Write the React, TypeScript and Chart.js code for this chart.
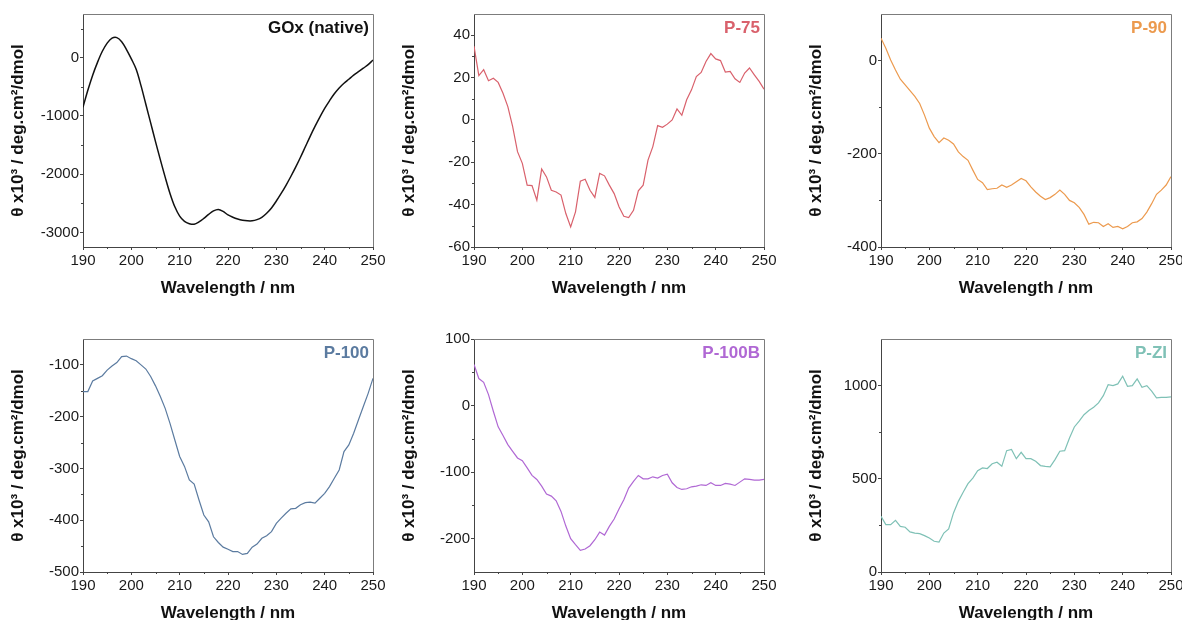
import React, { useEffect, useRef } from "react";
import { Chart, registerables } from "chart.js";

Chart.register(...registerables);

// Wavelength grid (nm), shared by every spectrum
const wavelengths = [
  190, 191, 192, 193, 194, 195, 196, 197, 198, 199,
  200, 201, 202, 203, 204, 205, 206, 207, 208, 209,
  210, 211, 212, 213, 214, 215, 216, 217, 218, 219,
  220, 221, 222, 223, 224, 225, 226, 227, 228, 229,
  230, 231, 232, 233, 234, 235, 236, 237, 238, 239,
  240, 241, 242, 243, 244, 245, 246, 247, 248, 249,
  250,
];

// Mean residue ellipticity, θ x10³ deg·cm²/dmol
const goxNative = [
  -850, -560, -300, -80, 110, 250, 335, 345, 275, 140,
  -20, -200, -480, -800, -1120, -1440, -1750, -2050, -2330, -2560,
  -2720, -2810, -2850, -2860, -2820, -2760, -2690, -2630, -2605, -2640,
  -2700, -2740, -2770, -2790, -2800, -2800, -2780, -2740, -2670, -2580,
  -2460, -2330, -2190, -2040, -1880, -1710, -1530, -1350, -1180, -1020,
  -870, -740, -620, -520, -440, -370, -300, -240, -180, -120,
  -40,
];

const p75 = [
  34.8, 20.9, 23.7, 18.5, 19.7, 17.7, 12.6, 6.3, -3.2, -15,
  -20.5, -30.8, -31, -37.9, -23.2, -26.9, -33.2, -34, -35.5, -44.2,
  -50.5, -43.4, -28.9, -28, -33.2, -36.6, -25.3, -26.4, -30.8, -34.8,
  -41, -45.5, -46.1, -42.7, -33.5, -30.8, -19, -12.6, -2.7, -3.5,
  -2, 0, 5.2, 2.2, 9.5, 14.2, 20.5, 22.4, 27.6, 31.3,
  28.8, 28, 22.6, 22.9, 19.4, 17.7, 22.1, 24.5, 21.3, 18.2,
  14.5,
];

const p90 = [
  48, 26.5, 1.4, -20, -40, -52, -64.5, -77, -92, -117,
  -145, -163, -176, -166, -171, -179, -196, -206, -214, -235,
  -255, -262, -277, -275, -274, -267, -272, -267, -260, -253,
  -258, -271, -282, -291, -298, -294, -287, -278, -287, -300,
  -305, -315, -330, -351, -347, -348, -356, -350, -358, -356,
  -361, -356, -348, -346, -339, -325, -307, -287, -278, -267,
  -249,
];

const p100 = [
  -151.5, -151.5, -131, -126, -121, -110, -102, -95.5, -84, -83,
  -88, -92, -100, -108, -122.5, -140.5, -161, -184, -213, -245,
  -277, -296, -322, -330, -361, -390, -403, -432, -443, -452,
  -456, -460.5, -460.5, -466, -464, -452, -446, -435, -430, -422,
  -406, -396, -386.5, -378, -377, -370, -366, -365, -367, -357.5,
  -348, -335, -319, -303, -267.5, -254.5, -232, -206, -180.5, -155,
  -126,
];

const p100b = [
  61.7, 40.6, 35, 16.5, -8.5, -32, -45, -58.6, -68.7, -78.7,
  -82.7, -93.7, -104.8, -111, -121, -133, -136, -143, -159, -181,
  -200, -209, -217.5, -215.5, -210.5, -201.5, -190, -194.5, -181.5, -170.4,
  -155.4, -141.4, -124, -114, -105, -110, -110, -107, -109, -105,
  -103, -116, -123, -126, -125, -122, -121, -119, -120, -116,
  -120, -120, -117, -118, -120, -115, -110, -111, -112, -112,
  -111,
];

const pZi = [
  299, 254, 254, 277, 245, 240, 215, 209, 206, 195,
  182, 165, 161, 209, 231, 317, 379, 428, 474, 504,
  544, 558, 555, 581, 589, 567, 651, 657, 608, 642,
  608, 608, 594, 571, 567, 564, 603, 648, 651, 719,
  778, 809, 844, 866, 884, 907, 946, 1005, 1000, 1009,
  1050, 996, 1000, 1036, 991, 1000, 970, 934, 937, 937,
  939,
];

// Axis ticks
const xMajorTicks = [190, 200, 210, 220, 230, 240, 250];
const xMinorTicks = [195, 205, 215, 225, 235, 245];

const goxYMajor = [-3000, -2000, -1000, 0];
const goxYMinor = [-2500, -1500, -500, 500];
const p75YMajor = [-60, -40, -20, 0, 20, 40];
const p75YMinor = [-50, -30, -10, 10, 30];
const p90YMajor = [-400, -200, 0];
const p90YMinor = [-300, -100];
const p100YMajor = [-500, -400, -300, -200, -100];
const p100YMinor = [-450, -350, -250, -150];
const p100bYMajor = [-200, -100, 0, 100];
const p100bYMinor = [-150, -50, 50];
const pZiYMajor = [0, 500, 1000];
const pZiYMinor = [250, 750];

const FONT = "'Liberation Sans', Arial, Helvetica, sans-serif";
const CANVAS_W = 420;
const CANVAS_H = 310;
const AREA_LEFT = 83;
const AREA_TOP = 14;
const AREA_W = 290;
const AREA_H = 233;
const Y_AXIS_W = 75;
const X_AXIS_H = 55;

type PanelSpec = {
  title: string;
  values: number[];
  color: string;
  yMin: number;
  yMax: number;
  yMajor: number[];
  yMinor: number[];
  plotLeft: number;
  plotTop: number;
  lineWidth: number;
  tension: number;
};

const panels: PanelSpec[] = [
  { title: "GOx (native)", values: goxNative, color: "#111111", yMin: -3250, yMax: 750, yMajor: goxYMajor, yMinor: goxYMinor, plotLeft: 83, plotTop: 14, lineWidth: 1.5, tension: 0.35 },
  { title: "P-75", values: p75, color: "#d9616c", yMin: -60, yMax: 50, yMajor: p75YMajor, yMinor: p75YMinor, plotLeft: 474, plotTop: 14, lineWidth: 1.2, tension: 0 },
  { title: "P-90", values: p90, color: "#ec9a4e", yMin: -400, yMax: 100, yMajor: p90YMajor, yMinor: p90YMinor, plotLeft: 881, plotTop: 14, lineWidth: 1.2, tension: 0 },
  { title: "P-100", values: p100, color: "#5b7ba0", yMin: -500, yMax: -50, yMajor: p100YMajor, yMinor: p100YMinor, plotLeft: 83, plotTop: 339, lineWidth: 1.2, tension: 0 },
  { title: "P-100B", values: p100b, color: "#b068d4", yMin: -250, yMax: 100, yMajor: p100bYMajor, yMinor: p100bYMinor, plotLeft: 474, plotTop: 339, lineWidth: 1.2, tension: 0 },
  { title: "P-ZI", values: pZi, color: "#7fc1b6", yMin: 0, yMax: 1250, yMajor: pZiYMajor, yMinor: pZiYMinor, plotLeft: 881, plotTop: 339, lineWidth: 1.2, tension: 0 },
];

// Draws the top/right frame, the short minor ticks and the sample name
const panelDecor = {
  id: "panelDecor",
  afterDraw(chart: any, _args: any, opts: any) {
    const { ctx, chartArea: a } = chart;
    const xs = chart.scales.x;
    const ys = chart.scales.y;
    ctx.save();
    ctx.lineWidth = 1;
    ctx.strokeStyle = "#7c7c7c";
    ctx.beginPath();
    ctx.moveTo(a.left, a.top + 0.5);
    ctx.lineTo(a.right + 0.5, a.top + 0.5);
    ctx.lineTo(a.right + 0.5, a.bottom);
    ctx.stroke();

    ctx.strokeStyle = "#444444";
    ctx.beginPath();
    for (const v of opts.xMinor) {
      const px = Math.round(xs.getPixelForValue(v)) + 0.5;
      ctx.moveTo(px, a.bottom);
      ctx.lineTo(px, a.bottom + 2);
    }
    for (const v of opts.yMinor) {
      const py = Math.round(ys.getPixelForValue(v)) + 0.5;
      ctx.moveTo(a.left, py);
      ctx.lineTo(a.left - 2, py);
    }
    ctx.stroke();

    ctx.font = `bold 17px ${FONT}`;
    ctx.fillStyle = opts.color;
    ctx.textAlign = "right";
    ctx.textBaseline = "middle";
    ctx.fillText(opts.title, a.right - 4, a.top + 14);
    ctx.restore();
  },
};

function PanelChart({ panel }: { panel: PanelSpec }) {
  const ref = useRef<HTMLCanvasElement | null>(null);

  useEffect(() => {
    const canvas = ref.current;
    if (!canvas) return;
    const points = wavelengths.map((w, i) => ({ x: w, y: panel.values[i] }));
    const chart = new Chart(canvas, {
      type: "line",
      data: {
        datasets: [
          {
            data: points,
            borderColor: panel.color,
            borderWidth: panel.lineWidth,
            pointRadius: 0,
            fill: false,
            tension: panel.tension,
          },
        ],
      },
      options: {
        responsive: false,
        animation: false,
        devicePixelRatio: 1,
        events: [],
        layout: {
          padding: {
            left: AREA_LEFT - Y_AXIS_W,
            top: AREA_TOP,
            right: CANVAS_W - AREA_LEFT - AREA_W,
            bottom: CANVAS_H - AREA_TOP - AREA_H - X_AXIS_H,
          },
        },
        plugins: {
          legend: { display: false },
          tooltip: { enabled: false },
          panelDecor: {
            title: panel.title,
            color: panel.color,
            xMinor: xMinorTicks,
            yMinor: panel.yMinor,
          },
        } as any,
        scales: {
          x: {
            type: "linear",
            min: 190,
            max: 250,
            afterBuildTicks: (s: any) => {
              s.ticks = xMajorTicks.map((v) => ({ value: v }));
            },
            afterFit: (s: any) => {
              s.height = X_AXIS_H;
            },
            ticks: {
              autoSkip: false,
              maxRotation: 0,
              minRotation: 0,
              padding: 2,
              color: "#1a1a1a",
              font: { family: FONT, size: 15 },
              callback: (v: any) => String(v),
            },
            grid: {
              drawOnChartArea: false,
              drawTicks: true,
              tickLength: 3,
              tickColor: "#444444",
            },
            border: { display: true, color: "#444444", width: 1 },
            title: {
              display: true,
              text: "Wavelength / nm",
              color: "#111111",
              font: { family: FONT, size: 17, weight: "bold" },
              padding: { top: 0, bottom: 3 },
            },
          },
          y: {
            type: "linear",
            min: panel.yMin,
            max: panel.yMax,
            afterBuildTicks: (s: any) => {
              s.ticks = panel.yMajor.map((v) => ({ value: v }));
            },
            afterFit: (s: any) => {
              s.width = Y_AXIS_W;
            },
            ticks: {
              autoSkip: false,
              padding: 1,
              color: "#1a1a1a",
              font: { family: FONT, size: 15 },
              callback: (v: any) => String(v),
            },
            grid: {
              drawOnChartArea: false,
              drawTicks: true,
              tickLength: 3,
              tickColor: "#444444",
            },
            border: { display: true, color: "#444444", width: 1 },
            title: {
              display: true,
              text: "θ x10³ / deg.cm²/dmol",
              color: "#111111",
              font: { family: FONT, size: 17, weight: "bold" },
              padding: { top: 0, bottom: 0 },
            },
          },
        },
      },
      plugins: [panelDecor],
    } as any);
    return () => chart.destroy();
  }, [panel]);

  return (
    <canvas
      ref={ref}
      width={CANVAS_W}
      height={CANVAS_H}
      style={{
        position: "absolute",
        left: panel.plotLeft - AREA_LEFT,
        top: panel.plotTop - AREA_TOP,
        width: CANVAS_W,
        height: CANVAS_H,
      }}
    />
  );
}

export default function App() {
  return (
    <div
      style={{
        position: "absolute",
        left: 0,
        top: 0,
        width: 1182,
        height: 620,
        overflow: "hidden",
        background: "#ffffff",
      }}
    >
      {panels.map((p) => (
        <PanelChart key={p.title} panel={p} />
      ))}
    </div>
  );
}
